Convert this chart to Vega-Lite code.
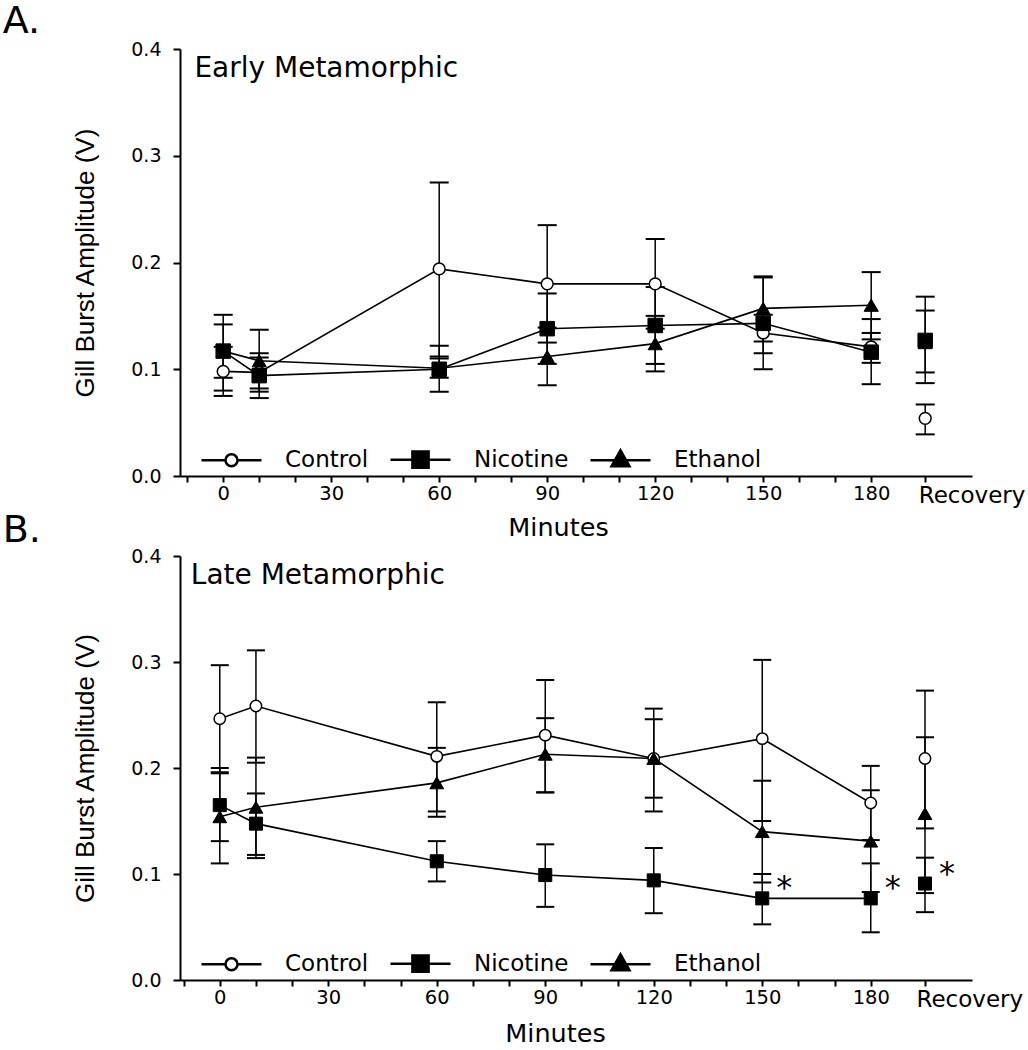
{
  "$schema": "https://vega.github.io/schema/vega-lite/v6.json",
  "padding": {"left": 2, "top": 3, "right": 0, "bottom": 0},
  "background": "white",
  "config": {
    "font": "DejaVu Sans",
    "view": {"stroke": null},
    "axis": {"grid": false, "domainColor": "black", "domainWidth": 2, "tickColor": "black", "tickWidth": 2, "labelColor": "black", "titleColor": "black", "titleFontWeight": "normal", "labelFont": "DejaVu Sans", "labelOverlap": false, "labelFlush": false},
    "legend": {"symbolOpacity": 1},
    "title": {"color": "black", "fontWeight": "normal", "font": "DejaVu Sans", "fontSize": 38, "anchor": "start", "frame": "bounds", "dx": -70}
  },
  "datasets": {
    "early": [
      {"group": "Control", "minute": 0, "phase": "Exposure", "mean": 0.098, "lo": 0.075, "hi": 0.121, "sig": ""},
      {"group": "Control", "minute": 10, "phase": "Exposure", "mean": 0.097, "lo": 0.082, "hi": 0.111, "sig": ""},
      {"group": "Control", "minute": 60, "phase": "Exposure", "mean": 0.194, "lo": 0.112, "hi": 0.275, "sig": ""},
      {"group": "Control", "minute": 90, "phase": "Exposure", "mean": 0.180, "lo": 0.125, "hi": 0.235, "sig": ""},
      {"group": "Control", "minute": 120, "phase": "Exposure", "mean": 0.180, "lo": 0.138, "hi": 0.222, "sig": ""},
      {"group": "Control", "minute": 150, "phase": "Exposure", "mean": 0.134, "lo": 0.115, "hi": 0.151, "sig": ""},
      {"group": "Control", "minute": 180, "phase": "Exposure", "mean": 0.121, "lo": 0.106, "hi": 0.134, "sig": ""},
      {"group": "Control", "minute": 195, "phase": "Recovery", "mean": 0.054, "lo": 0.039, "hi": 0.067, "sig": ""},
      {"group": "Nicotine", "minute": 0, "phase": "Exposure", "mean": 0.117, "lo": 0.080, "hi": 0.151, "sig": ""},
      {"group": "Nicotine", "minute": 10, "phase": "Exposure", "mean": 0.094, "lo": 0.073, "hi": 0.115, "sig": ""},
      {"group": "Nicotine", "minute": 60, "phase": "Exposure", "mean": 0.100, "lo": 0.079, "hi": 0.122, "sig": ""},
      {"group": "Nicotine", "minute": 90, "phase": "Exposure", "mean": 0.138, "lo": 0.105, "hi": 0.171, "sig": ""},
      {"group": "Nicotine", "minute": 120, "phase": "Exposure", "mean": 0.141, "lo": 0.105, "hi": 0.177, "sig": ""},
      {"group": "Nicotine", "minute": 150, "phase": "Exposure", "mean": 0.143, "lo": 0.100, "hi": 0.186, "sig": ""},
      {"group": "Nicotine", "minute": 180, "phase": "Exposure", "mean": 0.116, "lo": 0.086, "hi": 0.147, "sig": ""},
      {"group": "Nicotine", "minute": 195, "phase": "Recovery", "mean": 0.127, "lo": 0.087, "hi": 0.168, "sig": ""},
      {"group": "Ethanol", "minute": 0, "phase": "Exposure", "mean": 0.117, "lo": 0.092, "hi": 0.142, "sig": ""},
      {"group": "Ethanol", "minute": 10, "phase": "Exposure", "mean": 0.108, "lo": 0.079, "hi": 0.137, "sig": ""},
      {"group": "Ethanol", "minute": 60, "phase": "Exposure", "mean": 0.101, "lo": 0.092, "hi": 0.110, "sig": ""},
      {"group": "Ethanol", "minute": 90, "phase": "Exposure", "mean": 0.112, "lo": 0.085, "hi": 0.139, "sig": ""},
      {"group": "Ethanol", "minute": 120, "phase": "Exposure", "mean": 0.124, "lo": 0.098, "hi": 0.150, "sig": ""},
      {"group": "Ethanol", "minute": 150, "phase": "Exposure", "mean": 0.157, "lo": 0.126, "hi": 0.187, "sig": ""},
      {"group": "Ethanol", "minute": 180, "phase": "Exposure", "mean": 0.160, "lo": 0.128, "hi": 0.191, "sig": ""},
      {"group": "Ethanol", "minute": 195, "phase": "Recovery", "mean": 0.125, "lo": 0.097, "hi": 0.155, "sig": ""}
    ],
    "late": [
      {"group": "Control", "minute": 0, "phase": "Exposure", "mean": 0.2465, "lo": 0.196, "hi": 0.297, "sig": ""},
      {"group": "Control", "minute": 10, "phase": "Exposure", "mean": 0.2585, "lo": 0.205, "hi": 0.311, "sig": ""},
      {"group": "Control", "minute": 60, "phase": "Exposure", "mean": 0.211, "lo": 0.159, "hi": 0.262, "sig": ""},
      {"group": "Control", "minute": 90, "phase": "Exposure", "mean": 0.231, "lo": 0.177, "hi": 0.283, "sig": ""},
      {"group": "Control", "minute": 120, "phase": "Exposure", "mean": 0.209, "lo": 0.159, "hi": 0.256, "sig": ""},
      {"group": "Control", "minute": 150, "phase": "Exposure", "mean": 0.2277, "lo": 0.150, "hi": 0.302, "sig": ""},
      {"group": "Control", "minute": 180, "phase": "Exposure", "mean": 0.167, "lo": 0.132, "hi": 0.202, "sig": ""},
      {"group": "Control", "minute": 195, "phase": "Recovery", "mean": 0.209, "lo": 0.143, "hi": 0.273, "sig": ""},
      {"group": "Nicotine", "minute": 0, "phase": "Exposure", "mean": 0.165, "lo": 0.131, "hi": 0.200, "sig": ""},
      {"group": "Nicotine", "minute": 10, "phase": "Exposure", "mean": 0.1475, "lo": 0.115, "hi": 0.176, "sig": ""},
      {"group": "Nicotine", "minute": 60, "phase": "Exposure", "mean": 0.112, "lo": 0.093, "hi": 0.131, "sig": ""},
      {"group": "Nicotine", "minute": 90, "phase": "Exposure", "mean": 0.099, "lo": 0.069, "hi": 0.128, "sig": ""},
      {"group": "Nicotine", "minute": 120, "phase": "Exposure", "mean": 0.094, "lo": 0.063, "hi": 0.1245, "sig": ""},
      {"group": "Nicotine", "minute": 150, "phase": "Exposure", "mean": 0.077, "lo": 0.0525, "hi": 0.100, "sig": "*"},
      {"group": "Nicotine", "minute": 180, "phase": "Exposure", "mean": 0.077, "lo": 0.045, "hi": 0.110, "sig": "*"},
      {"group": "Nicotine", "minute": 195, "phase": "Recovery", "mean": 0.091, "lo": 0.064, "hi": 0.1154, "sig": "*"},
      {"group": "Ethanol", "minute": 0, "phase": "Exposure", "mean": 0.154, "lo": 0.110, "hi": 0.195, "sig": ""},
      {"group": "Ethanol", "minute": 10, "phase": "Exposure", "mean": 0.163, "lo": 0.118, "hi": 0.2098, "sig": ""},
      {"group": "Ethanol", "minute": 60, "phase": "Exposure", "mean": 0.186, "lo": 0.154, "hi": 0.219, "sig": ""},
      {"group": "Ethanol", "minute": 90, "phase": "Exposure", "mean": 0.213, "lo": 0.177, "hi": 0.247, "sig": ""},
      {"group": "Ethanol", "minute": 120, "phase": "Exposure", "mean": 0.209, "lo": 0.172, "hi": 0.246, "sig": ""},
      {"group": "Ethanol", "minute": 150, "phase": "Exposure", "mean": 0.140, "lo": 0.092, "hi": 0.188, "sig": ""},
      {"group": "Ethanol", "minute": 180, "phase": "Exposure", "mean": 0.131, "lo": 0.083, "hi": 0.179, "sig": ""},
      {"group": "Ethanol", "minute": 195, "phase": "Recovery", "mean": 0.157, "lo": 0.082, "hi": 0.229, "sig": ""}
    ]
  },
  "resolve": {"scale": {"shape": "independent", "fill": "independent", "stroke": "independent"}, "legend": {"shape": "independent", "fill": "independent", "stroke": "independent"}},
  "spacing": -29,
  "vconcat": [
    {
      "title": {"text": "A.", "offset": -1},
      "width": 792,
      "height": 427,
      "data": {"name": "early"},
      "layer": [
        {
          "mark": {"type": "errorbar", "color": "black", "ticks": {"size": 19, "thickness": 2, "opacity": 1, "color": "black"}, "rule": {"strokeWidth": 1.5, "opacity": 1, "color": "black"}},
          "encoding": {
            "x": {"field": "minute", "type": "quantitative", "title": "Minutes", "scale": {"domain": [-12, 208], "nice": false, "zero": false},
              "axis": {"title": "Minutes", "values": [-10, 0, 10, 20, 30, 40, 50, 60, 70, 80, 90, 100, 110, 120, 130, 140, 150, 160, 170, 180, 195], "labelExpr": "datum.value == 195 ? 'Recovery' : ((datum.value >= 0 && datum.value % 30 == 0) ? datum.label : '')", "tickSize": 6, "labelPadding": 2, "labelFontSize": {"condition": {"test": "datum.value == 195", "value": 23}, "value": 19.5}, "labelAlign": {"condition": {"test": "datum.value == 195", "value": "left"}, "value": "center"}, "labelOffset": {"condition": {"test": "datum.value == 195", "value": -7}, "value": 0}, "labelFlush": false, "labelOverlap": false, "titleFontSize": 25.5, "titlePadding": 8, "titleX": 378}},
            "y": {"field": "lo", "type": "quantitative", "title": "Gill Burst Amplitude (V)", "scale": {"domain": [0, 0.4], "nice": false},
              "axis": {"title": "Gill Burst Amplitude (V)", "values": [0, 0.1, 0.2, 0.3, 0.4], "format": ".1f", "tickSize": 7, "labelPadding": 12, "labelFontSize": 19, "titleFont": "Liberation Sans", "titleFontSize": 26, "titlePadding": 32}},
            "y2": {"field": "hi"}
          }
        },
        {
          "transform": [{"filter": "datum.phase == 'Exposure'"}],
          "mark": {"type": "line", "color": "black", "strokeWidth": 1.6},
          "encoding": {
            "x": {"field": "minute", "type": "quantitative", "title": "Minutes",
              "axis": {"title": "Minutes", "values": [-10, 0, 10, 20, 30, 40, 50, 60, 70, 80, 90, 100, 110, 120, 130, 140, 150, 160, 170, 180, 195], "labelExpr": "datum.value == 195 ? 'Recovery' : ((datum.value >= 0 && datum.value % 30 == 0) ? datum.label : '')", "tickSize": 6, "labelPadding": 2, "labelFontSize": {"condition": {"test": "datum.value == 195", "value": 23}, "value": 19.5}, "labelAlign": {"condition": {"test": "datum.value == 195", "value": "left"}, "value": "center"}, "labelOffset": {"condition": {"test": "datum.value == 195", "value": -7}, "value": 0}, "labelFlush": false, "labelOverlap": false, "titleFontSize": 25.5, "titlePadding": 8, "titleX": 378}},
            "y": {"field": "mean", "type": "quantitative", "title": "Gill Burst Amplitude (V)"},
            "detail": {"field": "group"}
          }
        },
        {
          "transform": [{"filter": "datum.group == 'Control'"}],
          "mark": {"type": "point", "shape": "circle", "filled": true, "fill": "white", "stroke": "black", "strokeWidth": 1.5, "size": 140, "opacity": 1},
          "encoding": {
            "x": {"field": "minute", "type": "quantitative", "title": "Minutes",
              "axis": {"title": "Minutes", "values": [-10, 0, 10, 20, 30, 40, 50, 60, 70, 80, 90, 100, 110, 120, 130, 140, 150, 160, 170, 180, 195], "labelExpr": "datum.value == 195 ? 'Recovery' : ((datum.value >= 0 && datum.value % 30 == 0) ? datum.label : '')", "tickSize": 6, "labelPadding": 2, "labelFontSize": {"condition": {"test": "datum.value == 195", "value": 23}, "value": 19.5}, "labelAlign": {"condition": {"test": "datum.value == 195", "value": "left"}, "value": "center"}, "labelOffset": {"condition": {"test": "datum.value == 195", "value": -7}, "value": 0}, "labelFlush": false, "labelOverlap": false, "titleFontSize": 25.5, "titlePadding": 8, "titleX": 378}},
            "y": {"field": "mean", "type": "quantitative", "title": "Gill Burst Amplitude (V)"}
          }
        },
        {
          "transform": [{"filter": "datum.group == 'Nicotine'"}],
          "mark": {"type": "point", "shape": "square", "filled": true, "fill": "black", "stroke": "black", "strokeWidth": 1, "size": 210, "opacity": 1},
          "encoding": {
            "x": {"field": "minute", "type": "quantitative", "title": "Minutes",
              "axis": {"title": "Minutes", "values": [-10, 0, 10, 20, 30, 40, 50, 60, 70, 80, 90, 100, 110, 120, 130, 140, 150, 160, 170, 180, 195], "labelExpr": "datum.value == 195 ? 'Recovery' : ((datum.value >= 0 && datum.value % 30 == 0) ? datum.label : '')", "tickSize": 6, "labelPadding": 2, "labelFontSize": {"condition": {"test": "datum.value == 195", "value": 23}, "value": 19.5}, "labelAlign": {"condition": {"test": "datum.value == 195", "value": "left"}, "value": "center"}, "labelOffset": {"condition": {"test": "datum.value == 195", "value": -7}, "value": 0}, "labelFlush": false, "labelOverlap": false, "titleFontSize": 25.5, "titlePadding": 8, "titleX": 378}},
            "y": {"field": "mean", "type": "quantitative", "title": "Gill Burst Amplitude (V)"}
          }
        },
        {
          "transform": [{"filter": "datum.group == 'Ethanol'"}],
          "mark": {"type": "point", "shape": "triangle-up", "filled": true, "fill": "black", "stroke": "black", "strokeWidth": 1, "size": 200, "opacity": 1},
          "encoding": {
            "x": {"field": "minute", "type": "quantitative", "title": "Minutes",
              "axis": {"title": "Minutes", "values": [-10, 0, 10, 20, 30, 40, 50, 60, 70, 80, 90, 100, 110, 120, 130, 140, 150, 160, 170, 180, 195], "labelExpr": "datum.value == 195 ? 'Recovery' : ((datum.value >= 0 && datum.value % 30 == 0) ? datum.label : '')", "tickSize": 6, "labelPadding": 2, "labelFontSize": {"condition": {"test": "datum.value == 195", "value": 23}, "value": 19.5}, "labelAlign": {"condition": {"test": "datum.value == 195", "value": "left"}, "value": "center"}, "labelOffset": {"condition": {"test": "datum.value == 195", "value": -7}, "value": 0}, "labelFlush": false, "labelOverlap": false, "titleFontSize": 25.5, "titlePadding": 8, "titleX": 378}},
            "y": {"field": "mean", "type": "quantitative", "title": "Gill Burst Amplitude (V)"}
          }
        },
        {
          "mark": {"type": "point", "filled": true, "opacity": 0, "strokeWidth": 2.5},
          "encoding": {
            "x": {"field": "minute", "type": "quantitative", "title": "Minutes",
              "axis": {"title": "Minutes", "values": [-10, 0, 10, 20, 30, 40, 50, 60, 70, 80, 90, 100, 110, 120, 130, 140, 150, 160, 170, 180, 195], "labelExpr": "datum.value == 195 ? 'Recovery' : ((datum.value >= 0 && datum.value % 30 == 0) ? datum.label : '')", "tickSize": 6, "labelPadding": 2, "labelFontSize": {"condition": {"test": "datum.value == 195", "value": 23}, "value": 19.5}, "labelAlign": {"condition": {"test": "datum.value == 195", "value": "left"}, "value": "center"}, "labelOffset": {"condition": {"test": "datum.value == 195", "value": -7}, "value": 0}, "labelFlush": false, "labelOverlap": false, "titleFontSize": 25.5, "titlePadding": 8, "titleX": 378}},
            "y": {"field": "mean", "type": "quantitative", "title": "Gill Burst Amplitude (V)"},
            "shape": {"field": "group", "type": "nominal", "scale": {"domain": ["Control", "Nicotine", "Ethanol"], "range": ["M-1,0L-0.2,0M0.2,0L1,0M0.2,0A0.2,0.2,0,1,1,-0.2,0A0.2,0.2,0,1,1,0.2,0Z", "M-1,0L1,0M-0.27,-0.27L0.27,-0.27L0.27,0.27L-0.27,0.27Z", "M-1,0L1,0M0,-0.33L0.3,0.2L-0.3,0.2Z"]},
              "legend": {"title": null, "orient": "none", "legendX": 20, "legendY": 379, "direction": "horizontal", "symbolSize": 3600, "symbolOpacity": 1, "symbolStrokeColor": "black", "symbolStrokeWidth": 2.5, "labelFontSize": 23, "labelFont": "DejaVu Sans", "labelColor": "black", "labelOffset": 22, "columnPadding": 16, "padding": 0}},
            "fill": {"field": "group", "type": "nominal", "scale": {"domain": ["Control", "Nicotine", "Ethanol"], "range": ["white", "black", "black"]},
              "legend": {"title": null, "orient": "none", "legendX": 20, "legendY": 379, "direction": "horizontal", "symbolSize": 3600, "symbolOpacity": 1, "symbolStrokeColor": "black", "symbolStrokeWidth": 2.5, "labelFontSize": 23, "labelFont": "DejaVu Sans", "labelColor": "black", "labelOffset": 22, "columnPadding": 16, "padding": 0}},
            "stroke": {"field": "group", "type": "nominal", "scale": {"domain": ["Control", "Nicotine", "Ethanol"], "range": ["black", "black", "black"]},
              "legend": {"title": null, "orient": "none", "legendX": 20, "legendY": 379, "direction": "horizontal", "symbolSize": 3600, "symbolOpacity": 1, "symbolStrokeColor": "black", "symbolStrokeWidth": 2.5, "labelFontSize": 23, "labelFont": "DejaVu Sans", "labelColor": "black", "labelOffset": 22, "columnPadding": 16, "padding": 0}}
          }
        },
        {
          "data": {"values": [{"label": "Early Metamorphic"}]},
          "mark": {"type": "text", "align": "left", "baseline": "alphabetic", "fontSize": 28, "font": "DejaVu Sans", "color": "black"},
          "encoding": {
            "x": {"datum": -8, "type": "quantitative", "title": "Minutes",
              "axis": {"title": "Minutes", "values": [-10, 0, 10, 20, 30, 40, 50, 60, 70, 80, 90, 100, 110, 120, 130, 140, 150, 160, 170, 180, 195], "labelExpr": "datum.value == 195 ? 'Recovery' : ((datum.value >= 0 && datum.value % 30 == 0) ? datum.label : '')", "tickSize": 6, "labelPadding": 2, "labelFontSize": {"condition": {"test": "datum.value == 195", "value": 23}, "value": 19.5}, "labelAlign": {"condition": {"test": "datum.value == 195", "value": "left"}, "value": "center"}, "labelOffset": {"condition": {"test": "datum.value == 195", "value": -7}, "value": 0}, "labelFlush": false, "labelOverlap": false, "titleFontSize": 25.5, "titlePadding": 8, "titleX": 378}},
            "y": {"datum": 0.374, "type": "quantitative", "title": "Gill Burst Amplitude (V)",
              "axis": {"title": "Gill Burst Amplitude (V)", "values": [0, 0.1, 0.2, 0.3, 0.4], "format": ".1f", "tickSize": 7, "labelPadding": 12, "labelFontSize": 19, "titleFont": "Liberation Sans", "titleFontSize": 26, "titlePadding": 32}},
            "text": {"field": "label"}
          }
        }
      ]
    },
    {
      "title": {"text": "B.", "offset": -3},
      "width": 792,
      "height": 424,
      "data": {"name": "late"},
      "layer": [
        {
          "mark": {"type": "errorbar", "color": "black", "ticks": {"size": 18, "thickness": 2, "opacity": 1, "color": "black"}, "rule": {"strokeWidth": 1.5, "opacity": 1, "color": "black"}},
          "encoding": {
            "x": {"field": "minute", "type": "quantitative", "title": "Minutes", "scale": {"domain": [-11, 208], "nice": false, "zero": false},
              "axis": {"title": "Minutes", "values": [-10, 0, 10, 20, 30, 40, 50, 60, 70, 80, 90, 100, 110, 120, 130, 140, 150, 160, 170, 180, 195], "labelExpr": "datum.value == 195 ? 'Recovery' : ((datum.value >= 0 && datum.value % 30 == 0) ? datum.label : '')", "tickSize": 6, "labelPadding": 2, "labelFontSize": {"condition": {"test": "datum.value == 195", "value": 23}, "value": 19.5}, "labelAlign": {"condition": {"test": "datum.value == 195", "value": "left"}, "value": "center"}, "labelOffset": {"condition": {"test": "datum.value == 195", "value": -9}, "value": 0}, "labelFlush": false, "labelOverlap": false, "titleFontSize": 25.5, "titlePadding": 10, "titleX": 375}},
            "y": {"field": "lo", "type": "quantitative", "title": "Gill Burst Amplitude (V)", "scale": {"domain": [0, 0.4], "nice": false},
              "axis": {"title": "Gill Burst Amplitude (V)", "values": [0, 0.1, 0.2, 0.3, 0.4], "format": ".1f", "tickSize": 7, "labelPadding": 12, "labelFontSize": 19, "titleFont": "Liberation Sans", "titleFontSize": 26, "titlePadding": 32}},
            "y2": {"field": "hi"}
          }
        },
        {
          "transform": [{"filter": "datum.phase == 'Exposure'"}],
          "mark": {"type": "line", "color": "black", "strokeWidth": 1.6},
          "encoding": {
            "x": {"field": "minute", "type": "quantitative", "title": "Minutes",
              "axis": {"title": "Minutes", "values": [-10, 0, 10, 20, 30, 40, 50, 60, 70, 80, 90, 100, 110, 120, 130, 140, 150, 160, 170, 180, 195], "labelExpr": "datum.value == 195 ? 'Recovery' : ((datum.value >= 0 && datum.value % 30 == 0) ? datum.label : '')", "tickSize": 6, "labelPadding": 2, "labelFontSize": {"condition": {"test": "datum.value == 195", "value": 23}, "value": 19.5}, "labelAlign": {"condition": {"test": "datum.value == 195", "value": "left"}, "value": "center"}, "labelOffset": {"condition": {"test": "datum.value == 195", "value": -9}, "value": 0}, "labelFlush": false, "labelOverlap": false, "titleFontSize": 25.5, "titlePadding": 10, "titleX": 375}},
            "y": {"field": "mean", "type": "quantitative", "title": "Gill Burst Amplitude (V)"},
            "detail": {"field": "group"}
          }
        },
        {
          "transform": [{"filter": "datum.group == 'Control'"}],
          "mark": {"type": "point", "shape": "circle", "filled": true, "fill": "white", "stroke": "black", "strokeWidth": 1.5, "size": 130, "opacity": 1},
          "encoding": {
            "x": {"field": "minute", "type": "quantitative", "title": "Minutes",
              "axis": {"title": "Minutes", "values": [-10, 0, 10, 20, 30, 40, 50, 60, 70, 80, 90, 100, 110, 120, 130, 140, 150, 160, 170, 180, 195], "labelExpr": "datum.value == 195 ? 'Recovery' : ((datum.value >= 0 && datum.value % 30 == 0) ? datum.label : '')", "tickSize": 6, "labelPadding": 2, "labelFontSize": {"condition": {"test": "datum.value == 195", "value": 23}, "value": 19.5}, "labelAlign": {"condition": {"test": "datum.value == 195", "value": "left"}, "value": "center"}, "labelOffset": {"condition": {"test": "datum.value == 195", "value": -9}, "value": 0}, "labelFlush": false, "labelOverlap": false, "titleFontSize": 25.5, "titlePadding": 10, "titleX": 375}},
            "y": {"field": "mean", "type": "quantitative", "title": "Gill Burst Amplitude (V)"}
          }
        },
        {
          "transform": [{"filter": "datum.group == 'Nicotine'"}],
          "mark": {"type": "point", "shape": "square", "filled": true, "fill": "black", "stroke": "black", "strokeWidth": 1, "size": 170, "opacity": 1},
          "encoding": {
            "x": {"field": "minute", "type": "quantitative", "title": "Minutes",
              "axis": {"title": "Minutes", "values": [-10, 0, 10, 20, 30, 40, 50, 60, 70, 80, 90, 100, 110, 120, 130, 140, 150, 160, 170, 180, 195], "labelExpr": "datum.value == 195 ? 'Recovery' : ((datum.value >= 0 && datum.value % 30 == 0) ? datum.label : '')", "tickSize": 6, "labelPadding": 2, "labelFontSize": {"condition": {"test": "datum.value == 195", "value": 23}, "value": 19.5}, "labelAlign": {"condition": {"test": "datum.value == 195", "value": "left"}, "value": "center"}, "labelOffset": {"condition": {"test": "datum.value == 195", "value": -9}, "value": 0}, "labelFlush": false, "labelOverlap": false, "titleFontSize": 25.5, "titlePadding": 10, "titleX": 375}},
            "y": {"field": "mean", "type": "quantitative", "title": "Gill Burst Amplitude (V)"}
          }
        },
        {
          "transform": [{"filter": "datum.group == 'Ethanol'"}],
          "mark": {"type": "point", "shape": "triangle-up", "filled": true, "fill": "black", "stroke": "black", "strokeWidth": 1, "size": 190, "opacity": 1},
          "encoding": {
            "x": {"field": "minute", "type": "quantitative", "title": "Minutes",
              "axis": {"title": "Minutes", "values": [-10, 0, 10, 20, 30, 40, 50, 60, 70, 80, 90, 100, 110, 120, 130, 140, 150, 160, 170, 180, 195], "labelExpr": "datum.value == 195 ? 'Recovery' : ((datum.value >= 0 && datum.value % 30 == 0) ? datum.label : '')", "tickSize": 6, "labelPadding": 2, "labelFontSize": {"condition": {"test": "datum.value == 195", "value": 23}, "value": 19.5}, "labelAlign": {"condition": {"test": "datum.value == 195", "value": "left"}, "value": "center"}, "labelOffset": {"condition": {"test": "datum.value == 195", "value": -9}, "value": 0}, "labelFlush": false, "labelOverlap": false, "titleFontSize": 25.5, "titlePadding": 10, "titleX": 375}},
            "y": {"field": "mean", "type": "quantitative", "title": "Gill Burst Amplitude (V)"}
          }
        },
        {
          "transform": [{"filter": "datum.sig == '*'"}],
          "mark": {"type": "text", "align": "center", "baseline": "middle", "dx": 22, "dy": -10, "fontSize": 32, "font": "DejaVu Sans", "color": "black"},
          "encoding": {
            "x": {"field": "minute", "type": "quantitative", "title": "Minutes",
              "axis": {"title": "Minutes", "values": [-10, 0, 10, 20, 30, 40, 50, 60, 70, 80, 90, 100, 110, 120, 130, 140, 150, 160, 170, 180, 195], "labelExpr": "datum.value == 195 ? 'Recovery' : ((datum.value >= 0 && datum.value % 30 == 0) ? datum.label : '')", "tickSize": 6, "labelPadding": 2, "labelFontSize": {"condition": {"test": "datum.value == 195", "value": 23}, "value": 19.5}, "labelAlign": {"condition": {"test": "datum.value == 195", "value": "left"}, "value": "center"}, "labelOffset": {"condition": {"test": "datum.value == 195", "value": -9}, "value": 0}, "labelFlush": false, "labelOverlap": false, "titleFontSize": 25.5, "titlePadding": 10, "titleX": 375}},
            "y": {"field": "mean", "type": "quantitative", "title": "Gill Burst Amplitude (V)"},
            "text": {"field": "sig"}
          }
        },
        {
          "mark": {"type": "point", "filled": true, "opacity": 0, "strokeWidth": 2.5},
          "encoding": {
            "x": {"field": "minute", "type": "quantitative", "title": "Minutes",
              "axis": {"title": "Minutes", "values": [-10, 0, 10, 20, 30, 40, 50, 60, 70, 80, 90, 100, 110, 120, 130, 140, 150, 160, 170, 180, 195], "labelExpr": "datum.value == 195 ? 'Recovery' : ((datum.value >= 0 && datum.value % 30 == 0) ? datum.label : '')", "tickSize": 6, "labelPadding": 2, "labelFontSize": {"condition": {"test": "datum.value == 195", "value": 23}, "value": 19.5}, "labelAlign": {"condition": {"test": "datum.value == 195", "value": "left"}, "value": "center"}, "labelOffset": {"condition": {"test": "datum.value == 195", "value": -9}, "value": 0}, "labelFlush": false, "labelOverlap": false, "titleFontSize": 25.5, "titlePadding": 10, "titleX": 375}},
            "y": {"field": "mean", "type": "quantitative", "title": "Gill Burst Amplitude (V)"},
            "shape": {"field": "group", "type": "nominal", "scale": {"domain": ["Control", "Nicotine", "Ethanol"], "range": ["M-1,0L-0.2,0M0.2,0L1,0M0.2,0A0.2,0.2,0,1,1,-0.2,0A0.2,0.2,0,1,1,0.2,0Z", "M-1,0L1,0M-0.27,-0.27L0.27,-0.27L0.27,0.27L-0.27,0.27Z", "M-1,0L1,0M0,-0.33L0.3,0.2L-0.3,0.2Z"]},
              "legend": {"title": null, "orient": "none", "legendX": 20, "legendY": 376, "direction": "horizontal", "symbolSize": 3600, "symbolOpacity": 1, "symbolStrokeColor": "black", "symbolStrokeWidth": 2.5, "labelFontSize": 23, "labelFont": "DejaVu Sans", "labelColor": "black", "labelOffset": 22, "columnPadding": 16, "padding": 0}},
            "fill": {"field": "group", "type": "nominal", "scale": {"domain": ["Control", "Nicotine", "Ethanol"], "range": ["white", "black", "black"]},
              "legend": {"title": null, "orient": "none", "legendX": 20, "legendY": 376, "direction": "horizontal", "symbolSize": 3600, "symbolOpacity": 1, "symbolStrokeColor": "black", "symbolStrokeWidth": 2.5, "labelFontSize": 23, "labelFont": "DejaVu Sans", "labelColor": "black", "labelOffset": 22, "columnPadding": 16, "padding": 0}},
            "stroke": {"field": "group", "type": "nominal", "scale": {"domain": ["Control", "Nicotine", "Ethanol"], "range": ["black", "black", "black"]},
              "legend": {"title": null, "orient": "none", "legendX": 20, "legendY": 376, "direction": "horizontal", "symbolSize": 3600, "symbolOpacity": 1, "symbolStrokeColor": "black", "symbolStrokeWidth": 2.5, "labelFontSize": 23, "labelFont": "DejaVu Sans", "labelColor": "black", "labelOffset": 22, "columnPadding": 16, "padding": 0}}
          }
        },
        {
          "data": {"values": [{"label": "Late Metamorphic"}]},
          "mark": {"type": "text", "align": "left", "baseline": "alphabetic", "fontSize": 28, "font": "DejaVu Sans", "color": "black"},
          "encoding": {
            "x": {"datum": -8, "type": "quantitative", "title": "Minutes",
              "axis": {"title": "Minutes", "values": [-10, 0, 10, 20, 30, 40, 50, 60, 70, 80, 90, 100, 110, 120, 130, 140, 150, 160, 170, 180, 195], "labelExpr": "datum.value == 195 ? 'Recovery' : ((datum.value >= 0 && datum.value % 30 == 0) ? datum.label : '')", "tickSize": 6, "labelPadding": 2, "labelFontSize": {"condition": {"test": "datum.value == 195", "value": 23}, "value": 19.5}, "labelAlign": {"condition": {"test": "datum.value == 195", "value": "left"}, "value": "center"}, "labelOffset": {"condition": {"test": "datum.value == 195", "value": -9}, "value": 0}, "labelFlush": false, "labelOverlap": false, "titleFontSize": 25.5, "titlePadding": 10, "titleX": 375}},
            "y": {"datum": 0.374, "type": "quantitative", "title": "Gill Burst Amplitude (V)",
              "axis": {"title": "Gill Burst Amplitude (V)", "values": [0, 0.1, 0.2, 0.3, 0.4], "format": ".1f", "tickSize": 7, "labelPadding": 12, "labelFontSize": 19, "titleFont": "Liberation Sans", "titleFontSize": 26, "titlePadding": 32}},
            "text": {"field": "label"}
          }
        }
      ]
    }
  ]
}
